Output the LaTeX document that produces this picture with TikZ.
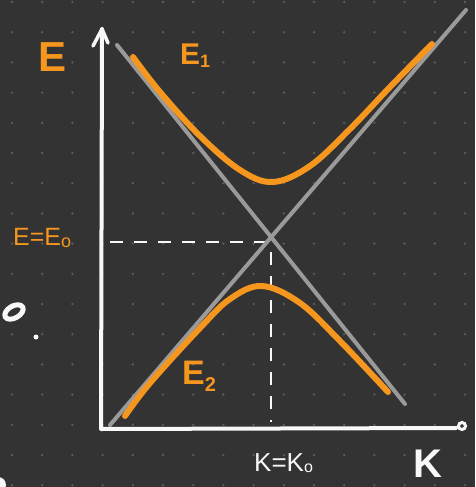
\documentclass[tikz,border=0pt]{standalone}
\usepackage{fontspec}
\setmainfont{Liberation Sans}
\definecolor{bg}{HTML}{333333}
\definecolor{griddot}{HTML}{5C5C5C}
\definecolor{org}{HTML}{F5961E}
\definecolor{gry}{HTML}{9A9A9A}
\definecolor{wht}{HTML}{F8F8F8}
\tikzset{
  asym/.style={draw=gry, line width=4pt, line cap=round},
  band/.style={draw=org, line width=6pt, line cap=round, line join=round},
  axis/.style={draw=wht, line width=4pt, line cap=round, line join=round},
  guide/.style={draw=wht, line width=1.4pt, dash pattern=on 13pt off 11pt},
  olab/.style={text=org, inner sep=0pt, anchor=center},
  wlab/.style={text=wht, inner sep=0pt, anchor=center}
}
\begin{document}
\begin{tikzpicture}[x=1pt,y=-1pt]
\fill[bg] (0,0) rectangle (475,487);
\useasboundingbox (0,0) rectangle (475,487);
% dot grid
\foreach \i in {0,...,15}{
  \foreach \j in {0,...,16}{
    \fill[griddot] ({12+30.2*\i},{2+30.2*\j}) circle (1.3);
  }
}
% coordinates
\coordinate (a1s) at (117,45);
\coordinate (a1e) at (405,404);
\coordinate (a2s) at (110,425);
\coordinate (a2e) at (466,10);
\coordinate (cross) at (270,238);
\coordinate (origin) at (101,429);
\coordinate (ytip) at (102,29);
\coordinate (xend) at (456,428);
\coordinate (hdl) at (110,242);
\coordinate (hdr) at (266,242);
\coordinate (vdt) at (271,252);
\coordinate (vdb) at (271,422);
% guides
\draw[guide] (hdl) -- (hdr);
\draw[guide] (vdt) -- (vdb);
% asymptotes
\draw[asym] (a1s) -- (a1e);
\draw[asym] (a2s) -- (a2e);
% bands
\draw[band] plot[smooth, tension=0.6] coordinates {(133,57) (160,92) (200,136) (240,170) (273,182) (310,166) (350,129) (390,87) (432,44)};
\draw[band] plot[smooth, tension=0.6] coordinates {(125,416) (150,383) (200,328) (230,299) (262,286) (300,303) (340,341) (388,392)};
% axes
\draw[axis] (ytip) -- (origin) -- (xend);
\draw[axis, line width=3.5pt] (93,46) -- (ytip) -- (108,43);
\draw[wht, line width=3pt] (462,426) circle (3.5);
% labels
\node[olab, font=\bfseries\fontsize{42}{42}\selectfont] (lE) at (53,57) {E};
\node[olab, font=\bfseries\fontsize{30}{30}\selectfont, anchor=west] (lE1) at (180,56) {E\raisebox{-0.1em}{\fontsize{18}{18}\selectfont 1}};
\node[olab, font=\bfseries\fontsize{34}{34}\selectfont, anchor=west] (lE2) at (182,376) {E\raisebox{-0.2em}{\fontsize{20}{20}\selectfont 2}};
\node[olab, font=\fontsize{25}{25}\selectfont, anchor=west] (lE0) at (13,238) {E=E\raisebox{-0.05em}{\fontsize{18}{18}\selectfont o}};
\node[wlab, font=\fontsize{26}{26}\selectfont, anchor=west] (lK0) at (254,463) {K=K\raisebox{-0.05em}{\fontsize{16}{16}\selectfont o}};
\node[wlab, font=\bfseries\fontsize{40}{40}\selectfont] (lK) at (428,464) {K};
% stray marks
\draw[wht, line width=5pt, rotate around={30:(14,312)}] (14,312) ellipse (10 and 6);
\fill[wht] (36,337) circle (2.5);
\fill[wht] (-2,485) circle (8);
\end{tikzpicture}
\end{document}
